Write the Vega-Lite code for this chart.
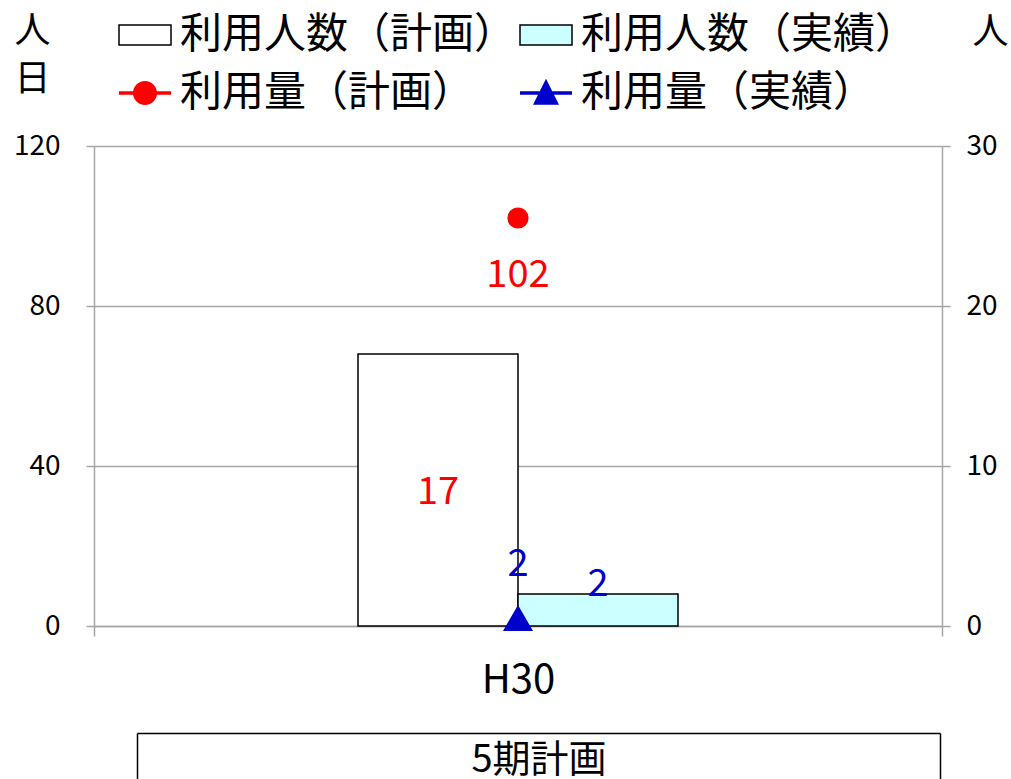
{
  "$schema": "https://vega.github.io/schema/vega-lite/v6.json",
  "width": 848,
  "height": 480,
  "autosize": {"type": "none"},
  "padding": {"left": 94, "top": 146, "right": 69, "bottom": 153},
  "background": "white",
  "config": {
    "font": "Noto Sans CJK JP",
    "view": {"stroke": null},
    "axis": {"labelColor": "black", "titleColor": "black", "titleFontWeight": "normal", "labelFont": "Noto Sans CJK JP", "titleFont": "Noto Sans CJK JP"},
    "legend": {
      "padding": 0, "labelFontSize": 42, "labelColor": "black", "labelOffset": 8, "labelLimit": 0,
      "symbolSize": 2704, "symbolStrokeWidth": 1.5, "symbolOpacity": 1,
      "symbolType": {"expr": "indexof(datum.value, '人数') >= 0 ? 'M-1,-0.38H1V0.38H-1Z' : (datum.value === '利用量（計画）' ? 'M-1,-0.07H1V0.07H-1Z M-0.46,0A0.46,0.46,0,1,1,0.46,0A0.46,0.46,0,1,1,-0.46,0Z' : 'M-1,-0.07H1V0.07H-1Z M0,-0.55L0.5,0.45L-0.5,0.45Z')"},
      "symbolStrokeColor": {"expr": "indexof(datum.value, '人数') >= 0 ? 'black' : 'transparent'"}
    }
  },
  "datasets": {
    "bars": [
      {"year": "H30", "series": "利用人数（計画）", "value": 17},
      {"year": "H30", "series": "利用人数（実績）", "value": 2}
    ],
    "points": [
      {"year": "H30", "series": "利用量（計画）", "value": 102},
      {"year": "H30", "series": "利用量（実績）", "value": 2}
    ],
    "period": [{"period": "5期計画"}]
  },
  "layer": [
    {
      "data": {"name": "bars"},
      "encoding": {
        "x": {"field": "year", "type": "nominal", "scale": {"paddingInner": 0, "paddingOuter": 0.825}, "axis": null},
        "xOffset": {"field": "series", "type": "nominal", "scale": {"domain": ["利用人数（計画）", "利用人数（実績）"], "paddingInner": 0, "paddingOuter": 0}},
        "y": {
          "field": "value", "type": "quantitative",
          "scale": {"domain": [0, 30], "nice": false},
          "axis": {
            "orient": "right", "values": [0, 10, 20, 30], "grid": false,
            "domainColor": "#a6a6a6", "domainWidth": 1.5, "tickColor": "#a6a6a6", "tickWidth": 1.5, "tickSize": 8,
            "labelFontSize": 28, "labelPadding": 16,
            "title": "人", "titleAngle": 0, "titleX": 48, "titleY": -131, "titleBaseline": "top", "titleAlign": "center", "titleFontSize": 36
          }
        }
      },
      "layer": [
        {
          "mark": {"type": "bar", "stroke": "black", "strokeWidth": 1.5},
          "encoding": {
            "color": {
              "field": "series", "type": "nominal",
              "scale": {"domain": ["利用人数（計画）", "利用量（計画）", "利用人数（実績）", "利用量（実績）"], "range": ["#FFFFFF", "#FF0000", "#CCFFFF", "#0000CC"]},
              "legend": {"title": null, "orient": "none", "legendX": 24, "legendY": -138, "columns": 2, "columnPadding": 0, "rowPadding": 10}
            }
          }
        },
        {
          "transform": [{"filter": "datum.series === '利用人数（計画）'"}],
          "mark": {"type": "text", "dy": 139, "fontSize": 38, "color": "#FF0000"},
          "encoding": {"text": {"field": "value", "type": "quantitative"}}
        },
        {
          "transform": [{"filter": "datum.series === '利用人数（実績）'"}],
          "mark": {"type": "text", "dy": -9, "fontSize": 38, "color": "#0000CC"},
          "encoding": {"text": {"field": "value", "type": "quantitative"}}
        }
      ]
    },
    {
      "data": {"name": "points"},
      "encoding": {
        "x": {
          "field": "year", "type": "nominal", "scale": {"paddingInner": 0, "paddingOuter": 0},
          "axis": {
            "orient": "bottom", "title": null, "labelAngle": 0, "domainColor": "#a6a6a6", "domainWidth": 1.5,
            "tickBand": "extent", "tickColor": "#a6a6a6", "tickWidth": 1.5, "tickSize": 10,
            "labelFontSize": 40, "labelPadding": 24
          }
        },
        "y": {
          "field": "value", "type": "quantitative",
          "scale": {"domain": [0, 120], "nice": false},
          "axis": {
            "orient": "left", "values": [0, 40, 80, 120], "grid": true, "gridColor": "#a6a6a6", "gridWidth": 1.5,
            "domainColor": "#a6a6a6", "domainWidth": 1.5, "tickColor": "#a6a6a6", "tickWidth": 1.5, "tickSize": 8,
            "labelFontSize": 28, "labelPadding": 26,
            "title": ["人", "日"], "titleAngle": 0, "titleX": -62, "titleY": -132, "titleBaseline": "top", "titleAlign": "center", "titleFontSize": 36, "titleLineHeight": 48
          }
        },
        "color": {
          "field": "series", "type": "nominal",
          "scale": {"domain": ["利用人数（計画）", "利用量（計画）", "利用人数（実績）", "利用量（実績）"], "range": ["#FFFFFF", "#FF0000", "#CCFFFF", "#0000CC"]},
          "legend": {"title": null, "orient": "none", "legendX": 24, "legendY": -138, "columns": 2, "columnPadding": 0, "rowPadding": 10}
        }
      },
      "layer": [
        {
          "transform": [{"filter": "datum.series === '利用量（計画）'"}],
          "mark": {"type": "point", "shape": "circle", "filled": true, "opacity": 1, "size": 450}
        },
        {
          "transform": [{"filter": "datum.series === '利用量（実績）'"}],
          "mark": {"type": "point", "shape": "triangle-up", "filled": true, "opacity": 1, "size": 900}
        },
        {
          "transform": [{"filter": "datum.series === '利用量（計画）'"}],
          "mark": {"type": "text", "dy": 58, "fontSize": 38, "color": "#FF0000"},
          "encoding": {"text": {"field": "value", "type": "quantitative"}, "color": {"value": "#FF0000"}}
        },
        {
          "transform": [{"filter": "datum.series === '利用量（実績）'"}],
          "mark": {"type": "text", "dy": -53, "fontSize": 38, "color": "#0000CC"},
          "encoding": {"text": {"field": "value", "type": "quantitative"}, "color": {"value": "#0000CC"}}
        }
      ]
    },
    {
      "data": {"name": "period"},
      "mark": {"type": "point", "opacity": 0},
      "encoding": {
        "x": {
          "field": "period", "type": "nominal",
          "scale": {"type": "band", "range": [43, 846], "paddingInner": 0, "paddingOuter": 0},
          "axis": {
            "orient": "bottom", "offset": 107, "title": null, "labelAngle": 0,
            "domainColor": "black", "domainWidth": 1.5, "tickBand": "extent", "tickColor": "black", "tickWidth": 1.5, "tickSize": 46,
            "labelFontSize": 38, "labelPadding": -38
          }
        }
      }
    }
  ],
  "resolve": {"scale": {"x": "independent", "y": "independent"}}
}
